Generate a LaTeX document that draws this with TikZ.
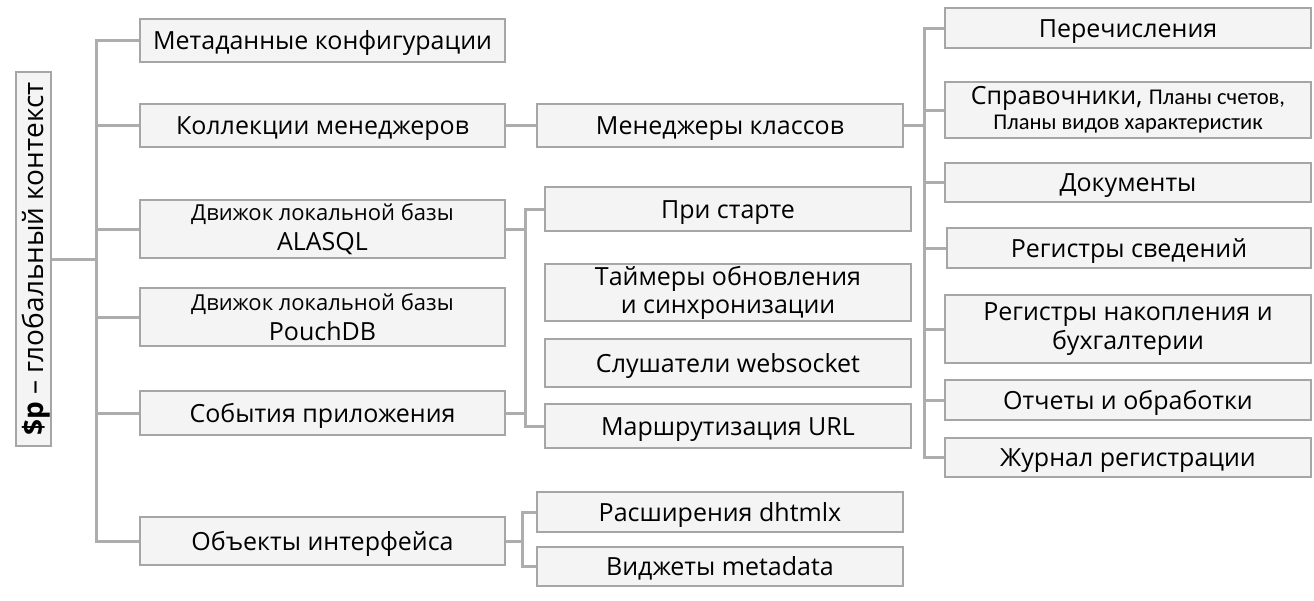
\documentclass[tikz,border=0pt]{standalone}
\usepackage{fontspec}
\setmainfont{Open Sans}
\newfontfamily\calf{Carlito}
\definecolor{boxfill}{HTML}{F4F4F4}
\definecolor{boxline}{HTML}{A6A6A6}
\definecolor{connline}{HTML}{ADADAD}
\begin{document}
\begin{tikzpicture}[x=1pt,y=-1pt,
  box/.style={draw=boxline, fill=boxfill, line width=1.5pt, inner sep=0pt, align=center,
    font=\fontsize{25}{29}\selectfont, text=black},
  one/.style={box, text height=18pt, text depth=0pt},
  conn/.style={draw=connline, line width=3pt}]
\useasboundingbox (0,0) rectangle (1314,600);
\fill[white] (0,0) rectangle (1314,600);
% root
\node[box, rotate=90, minimum width=374pt, minimum height=35pt, font=\fontsize{28}{32}\selectfont,
  text height=20pt, text depth=0pt] (root) at (33.5,259)
  {\textbf{\$p} – глобальный контекст};
% level 1
\node[one, minimum width=365pt, minimum height=43pt] (meta) at (322.5,40.5) {Метаданные конфигурации};
\node[one, minimum width=365pt, minimum height=43pt] (koll) at (322.5,125.5) {Коллекции менеджеров};
\node[box, minimum width=365pt, minimum height=58pt, font=\fontsize{25}{30}\selectfont] (alasql) at (322.5,229) {{\fontsize{22}{30}\selectfont Движок локальной базы}\\ALASQL};
\node[box, minimum width=365pt, minimum height=58pt, font=\fontsize{25}{30}\selectfont] (pouch) at (322.5,317) {{\fontsize{22}{30}\selectfont Движок локальной базы}\\PouchDB};
\node[one, minimum width=365pt, minimum height=44pt] (sob) at (322.5,413) {События приложения};
\node[one, minimum width=365pt, minimum height=48pt] (obj) at (322.5,541) {Объекты интерфейса};
% level 2
\node[one, minimum width=366pt, minimum height=43pt] (mgr) at (720,125.5) {Менеджеры классов};
\node[one, minimum width=366pt, minimum height=44pt] (start) at (728,209) {При старте};
\node[box, minimum width=366pt, minimum height=57pt, font=\fontsize{25}{28}\selectfont] (timer) at (728,292.5) {Таймеры обновления\\и синхронизации};
\node[one, minimum width=366pt, minimum height=48pt] (ws) at (728,363) {Слушатели websocket};
\node[one, minimum width=366pt, minimum height=44pt] (url) at (728,426) {Маршрутизация URL};
\node[one, minimum width=366pt, minimum height=40pt] (dhx) at (720,512) {Расширения dhtmlx};
\node[one, minimum width=366pt, minimum height=39pt] (wid) at (720,566.5) {Виджеты metadata};
% level 3
\node[one, minimum width=366pt, minimum height=40pt] (enum) at (1128,28) {Перечисления};
\node[box, minimum width=366pt, minimum height=56pt, font=\fontsize{25}{25}\selectfont] (spr) at (1128,110) {Справочники, {\calf\fontsize{22.5}{25}\selectfont Планы счетов,}\\{\calf\fontsize{22.5}{25}\selectfont Планы видов характеристик}};
\node[one, minimum width=366pt, minimum height=39pt] (doc) at (1128,182.5) {Документы};
\node[one, minimum width=364pt, minimum height=40pt] (rsv) at (1129,248) {Регистры сведений};
\node[box, minimum width=366pt, minimum height=68pt] (rnak) at (1128,329) {Регистры накопления и\\бухгалтерии};
\node[one, minimum width=366pt, minimum height=40pt] (otch) at (1128,400) {Отчеты и обработки};
\node[one, minimum width=366pt, minimum height=39pt] (jour) at (1128,457.5) {Журнал регистрации};
% trunk coordinates
\coordinate (T) at (96,0);
\coordinate (E) at (525,0);
\coordinate (O) at (522,0);
\coordinate (M) at (924,0);
% root trunk
\draw[conn] (meta.west) -| (T |- obj.west) -- (obj.west);
\draw[conn] (root.south) -- (root.south -| T);
\foreach \n in {koll,alasql,pouch,sob} \draw[conn] (\n.west) -- (\n.west -| T);
% events bracket
\draw[conn] (start.west) -| (E |- url.west) -- (url.west);
\draw[conn] (alasql.east) -- (alasql.east -| E);
\draw[conn] (sob.east) -- (sob.east -| E);
% objects bracket
\draw[conn] (dhx.west) -| (O |- wid.west) -- (wid.west);
\draw[conn] (obj.east) -- (obj.east -| O);
% managers
\draw[conn] (koll.east) -- (mgr.west);
\draw[conn] (enum.west) -| (M |- jour.west) -- (jour.west);
\foreach \n in {spr,doc,rsv,rnak,otch} \draw[conn] (\n.west) -- (\n.west -| M);
\draw[conn] (mgr.east) -- (mgr.east -| M);
\end{tikzpicture}
\end{document}
